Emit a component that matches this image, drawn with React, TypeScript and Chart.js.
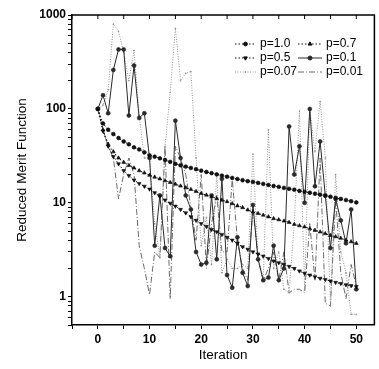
import React, { useEffect, useRef } from "react";
import { Chart, registerables } from "chart.js";
import { drawPoint } from "chart.js/helpers";

Chart.register(...registerables);

const iterations = [
  0, 1, 2, 3, 4, 5, 6, 7, 8, 9, 10, 11, 12, 13, 14, 15, 16, 17, 18, 19, 20, 21, 22, 23, 24, 25,
  26, 27, 28, 29, 30, 31, 32, 33, 34, 35, 36, 37, 38, 39, 40, 41, 42, 43, 44, 45, 46, 47, 48, 49, 50,
];

const seriesLabels = ["p=1.0", "p=0.7", "p=0.5", "p=0.1", "p=0.07", "p=0.01"];

const p10 = [
  100, 70, 60, 54, 49, 45, 42, 39, 37, 34.5, 32, 31, 29.8, 28.6, 27.3, 26, 25.1, 24.3, 23.5, 22.8,
  22, 21.3, 20.7, 20.1, 19.5, 19, 18.4, 17.9, 17.4, 17, 16.7, 16.3, 15.9, 15.5, 15.1, 14.8, 14.4,
  14.1, 13.8, 13.4, 13.1, 12.8, 12.5, 12.2, 11.9, 11.6, 11.3, 11, 10.7, 10.4, 10.1,
];

const p07 = [
  100, 60, 42, 35, 30, 27, 25, 23.5, 22, 20.8, 19.7, 18.8, 18, 17.2, 16.5, 15.8, 15.1, 14.5, 13.9,
  13.2, 12.6, 12.1, 11.6, 11.1, 10.7, 10.3, 9.8, 9.3, 8.9, 8.4, 8, 7.7, 7.4, 7.1, 6.8, 6.6, 6.4, 6.2,
  5.9, 5.7, 5.55, 5.3, 5.1, 4.9, 4.7, 4.5, 4.35, 4.2, 4, 3.85, 3.7,
];

const p05 = [
  100, 58, 40, 31, 26, 22, 19.5, 17.5, 16, 15, 14, 12.8, 11.7, 10.7, 9.9, 9.2, 8.5, 7.8, 7.1, 6.5,
  6, 5.6, 5.2, 4.9, 4.6, 4.3, 4, 3.7, 3.4, 3.2, 3, 2.85, 2.7, 2.55, 2.4, 2.3, 2.2, 2.1, 2, 1.88,
  1.77, 1.7, 1.63, 1.57, 1.52, 1.47, 1.42, 1.38, 1.34, 1.31, 1.28,
];

const p01 = [
  100, 140, 90, 260, 430, 430, 85, 290, 80, 90, 30, 3.5, 12, 3.3, 2.7, 75, 30, 12, 8.5, 3, 2.2, 2.3,
  12, 2.5, 18, 1.7, 1.25, 4.3, 1.8, 1.3, 9.5, 2.5, 1.5, 1.6, 3.5, 1.5, 2, 65, 20, 40, 10, 100, 15,
  45, 12, 3.3, 11, 6.5, 3.7, 8.5, 1.2,
];

const p007 = [
  100, 110, 160, 800, 670, 400, 200, 420, 85, 30, 30, 6, 2.6, 40, 150, 720, 200, 240, 250, 30, 3.5,
  7, 2.2, 20, 1.8, 2.5, 2, 2, 2.2, 2, 33, 2.5, 1.6, 60, 2, 3, 1.2, 1.1, 6, 95, 1.2, 100, 35, 120, 30,
  0.8, 20, 3, 1.8, 0.65, 0.65,
];

const p001 = [
  100, 60, 40, 30, 11, 20, 30, 20, 3.5, 2, 1.05, 3, 2.6, 40, 0.95, 40, 30, 20, 9, 4, 20, 2, 6, 12,
  3, 3, 18, 4, 2, 1.5, 9, 2.5, 1.5, 2, 3, 1.5, 3, 1.1, 1.2, 1.2, 1.1, 6, 1.5, 30, 0.85, 0.8, 11, 1.8,
  0.95, 2.2, 1.3,
];

const seriesValues = [p10, p07, p05, p01, p007, p001];

const FONT = "'Liberation Sans', Arial, Helvetica, sans-serif";

const seriesStyles = [
  { color: "#111", width: 1, dash: [1.5, 2], pointStyle: "circle", radius: 1.9, rotation: 0 },
  { color: "#111", width: 1, dash: [1.5, 2], pointStyle: "triangle", radius: 2.2, rotation: 0 },
  { color: "#111", width: 1, dash: [1.5, 2], pointStyle: "triangle", radius: 2.2, rotation: 180 },
  { color: "#2a2a2a", width: 1, dash: [], pointStyle: "circle", radius: 2, rotation: 0 },
  { color: "#8a8a8a", width: 0.9, dash: [1, 1.5], pointStyle: "circle", radius: 0.5, rotation: 0 },
  { color: "#5a5a5a", width: 0.9, dash: [6, 2, 1, 2], pointStyle: "circle", radius: 0, rotation: 0 },
];

const legendCols = [
  { s0: 235, s1: 256, tx: 260 },
  { s0: 298, s1: 322, tx: 326 },
];
const legendRows = [44, 58, 72];

const framePlugin = {
  id: "frame",
  afterDraw(chart: any) {
    const { ctx, chartArea } = chart;
    const { left, right, top, bottom } = chartArea;
    ctx.save();
    ctx.strokeStyle = "#000";
    ctx.lineWidth = 1.5;
    ctx.beginPath();
    ctx.moveTo(left, top);
    ctx.lineTo(right, top);
    ctx.lineTo(right, bottom);
    ctx.stroke();
    const xs = chart.scales.x;
    ctx.lineWidth = 1;
    xs.ticks.forEach((t: any) => {
      const px = xs.getPixelForValue(t.value);
      ctx.beginPath();
      ctx.moveTo(px, top);
      ctx.lineTo(px, top + 4);
      ctx.stroke();
    });
    ctx.restore();
  },
};

const legendPlugin = {
  id: "insideLegend",
  afterDraw(chart: any) {
    const { ctx } = chart;
    ctx.save();
    ctx.font = `12px ${FONT}`;
    ctx.textBaseline = "middle";
    ctx.textAlign = "left";
    chart.data.datasets.forEach((ds: any, i: number) => {
      const col = legendCols[i % 2];
      const y = legendRows[Math.floor(i / 2)];
      const st = seriesStyles[i];
      ctx.strokeStyle = st.color;
      ctx.fillStyle = st.color;
      ctx.lineWidth = st.width;
      ctx.setLineDash(st.dash);
      ctx.beginPath();
      ctx.moveTo(col.s0, y);
      ctx.lineTo(col.s1, y);
      ctx.stroke();
      ctx.setLineDash([]);
      if (st.radius > 0) {
        drawPoint(
          ctx,
          { pointStyle: st.pointStyle as any, radius: st.radius, rotation: st.rotation, borderWidth: 1 },
          (col.s0 + col.s1) / 2,
          y
        );
      }
      ctx.fillStyle = "#000";
      ctx.fillText(ds.label, col.tx, y);
    });
    ctx.restore();
  },
};

export default function App() {
  const ref = useRef<HTMLCanvasElement | null>(null);

  useEffect(() => {
    document.body.style.margin = "0";
    if (!ref.current) return;
    const datasets = seriesLabels.map((label, i) => {
      const st = seriesStyles[i];
      return {
        label,
        data: iterations.map((x, k) => ({ x, y: seriesValues[i][k] })),
        borderColor: st.color,
        backgroundColor: st.color,
        borderWidth: st.width,
        borderDash: st.dash,
        pointStyle: st.pointStyle,
        pointRadius: st.radius,
        pointRotation: st.rotation,
        pointBorderWidth: 0.6,
        pointBackgroundColor: st.color,
        pointBorderColor: st.color,
        tension: 0,
        fill: false,
      };
    });

    const chart = new Chart(ref.current, {
      type: "line",
      data: { datasets } as any,
      plugins: [framePlugin, legendPlugin],
      options: {
        responsive: false,
        animation: false,
        devicePixelRatio: 1,
        layout: { padding: { top: 15, right: 1, left: 0, bottom: 0 } },
        plugins: { legend: { display: false }, tooltip: { enabled: false } },
        scales: {
          x: {
            type: "linear",
            min: -5,
            max: 53.5,
            afterFit: (s: any) => {
              s.height = 44;
            },
            grid: { drawOnChartArea: false, tickLength: 4, color: "#000", tickWidth: 1 },
            border: { display: true, color: "#000", width: 1.5 },
            ticks: {
              stepSize: 5,
              includeBounds: false,
              autoSkip: false,
              maxRotation: 0,
              padding: 3,
              color: "#000",
              font: { family: FONT, size: 12, weight: "bold" },
              callback: (v: any) => (Number(v) % 10 === 0 ? String(v) : ""),
            },
            title: {
              display: true,
              text: "Iteration",
              color: "#000",
              font: { family: FONT, size: 13.5 },
              padding: { top: 0, bottom: 6 },
            },
          },
          y: {
            type: "logarithmic",
            min: 0.5,
            max: 1000,
            afterFit: (s: any) => {
              s.width = 72;
            },
            afterBuildTicks: (s: any) => {
              s.ticks = s.ticks.filter((t: any) => {
                const m = t.value / Math.pow(10, Math.floor(Math.log10(t.value) + 1e-9));
                return Math.abs(m - Math.round(m)) < 1e-6;
              });
            },
            grid: { drawOnChartArea: false, tickLength: 4, color: "#000", tickWidth: 1 },
            border: { display: true, color: "#000", width: 1.5 },
            ticks: {
              autoSkip: false,
              padding: 2,
              color: "#000",
              font: { family: FONT, size: 12, weight: "bold" },
              callback: (v: any) => {
                const l = Math.log10(Number(v));
                return Math.abs(l - Math.round(l)) < 1e-9 ? String(v) : "";
              },
            },
            title: {
              display: true,
              text: "Reduced Merit Function",
              color: "#000",
              font: { family: FONT, size: 13.5 },
              padding: { top: 14, bottom: 0 },
            },
          },
        },
      } as any,
    });
    return () => chart.destroy();
  }, []);

  return (
    <div style={{ width: 379, height: 369, background: "#fff" }}>
      <canvas ref={ref} width={379} height={369} style={{ display: "block" }} />
    </div>
  );
}
